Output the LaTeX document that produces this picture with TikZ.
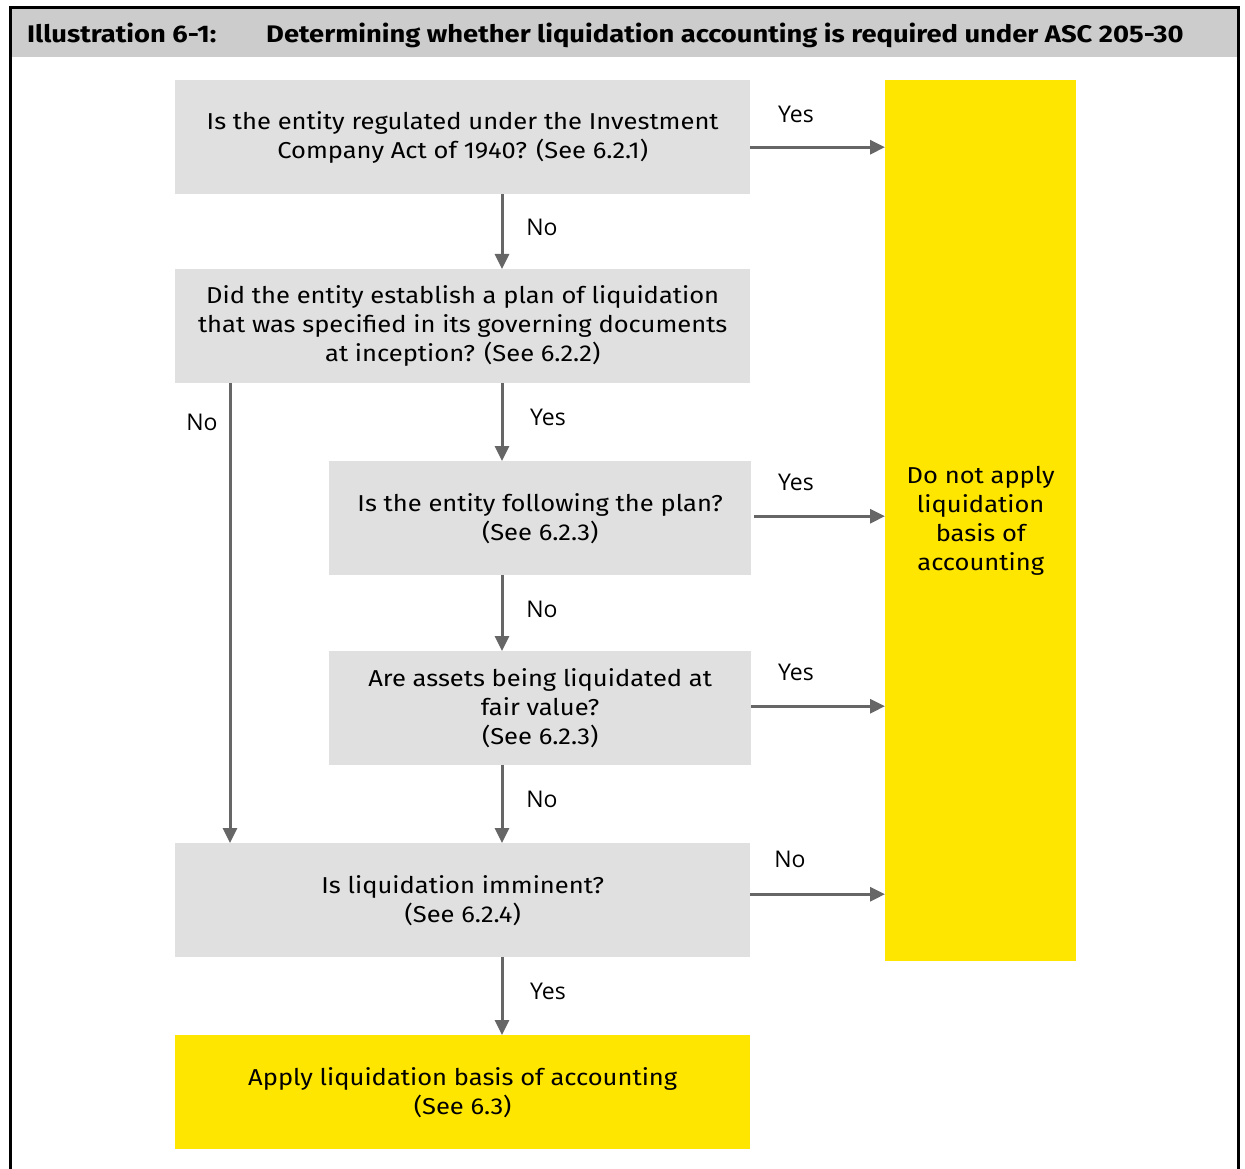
\documentclass[tikz,border=0pt]{standalone}
\usepackage{fontspec}
\setmainfont{Fira Sans}[FakeStretch=1.11]
\newfontfamily\hdrfont{Fira Sans}[FakeStretch=1.14]
\newfontfamily\lblfont{Open Sans}
\usepackage{tikz}
\usetikzlibrary{positioning,calc,arrows.meta}

\definecolor{hdrgray}{HTML}{CCCCCC}
\definecolor{boxgray}{HTML}{E0E0E0}
\definecolor{eyyellow}{HTML}{FFE600}
\definecolor{arrgray}{HTML}{666666}

\tikzset{
  qbox/.style={fill=boxgray, anchor=north west, align=center, inner sep=0pt,
    font=\fontsize{23}{29}\selectfont},
  ybox/.style={qbox, fill=eyyellow},
  flow/.style={draw=arrgray, line width=3pt, -{Triangle[length=15pt,width=14pt]}},
  lbl/.style={font=\lblfont\fontsize{23}{28}\selectfont, inner sep=0pt},
  hdr/.style={anchor=base west, font=\hdrfont\bfseries\fontsize{24}{28}\selectfont, inner sep=0pt}
}

\begin{document}
\begin{tikzpicture}[x=1pt,y=-1pt]
\useasboundingbox (0,0) rectangle (1245,1169);

% frame and header
\fill[hdrgray] (10,8) rectangle (1238,57);
\draw[line width=3pt] (10,1169) -- (10,8) -- (1238,8) -- (1238,1169);
\node[hdr] (ill) at (27,43) {Illustration 6-1:};
\node[hdr] (ttl) at (266,43)
  {Determining whether liquidation accounting is required under ASC 205-30};

% boxes
\node[qbox, minimum width=575pt, minimum height=114pt] (q1) at (175,80)
  {Is the entity regulated under the Investment\\Company Act of 1940? (See 6.2.1)};
\node[qbox, minimum width=575pt, minimum height=114pt] (q2) at (175,269)
  {Did the entity establish a plan of liquidation\\that was specified in its governing documents\\at inception? (See 6.2.2)};
\node[qbox, minimum width=422pt, minimum height=114pt] (q3) at (329,461)
  {Is the entity following the plan?\\(See 6.2.3)};
\node[qbox, minimum width=422pt, minimum height=114pt] (q4) at (329,651)
  {Are assets being liquidated at\\fair value?\\(See 6.2.3)};
\node[qbox, minimum width=575pt, minimum height=114pt] (q5) at (175,843)
  {Is liquidation imminent?\\(See 6.2.4)};
\node[ybox, minimum width=575pt, minimum height=114pt] (apply) at (175,1035)
  {Apply liquidation basis of accounting\\(See 6.3)};
\node[ybox, minimum width=191pt, minimum height=881pt] (noapply) at (885,80)
  {Do not apply\\liquidation\\basis of\\accounting};

% connectors
\coordinate (mid) at (502,0);
\coordinate (left) at (230,0);
\draw[flow] (q1.south -| mid) -- (q2.north -| mid);
\draw[flow] (q2.south -| mid) -- (q3.north -| mid);
\draw[flow] (q3.south -| mid) -- (q4.north -| mid);
\draw[flow] (q4.south -| mid) -- (q5.north -| mid);
\draw[flow] (q5.south -| mid) -- (apply.north -| mid);
\draw[flow] (q2.south -| left) -- (q5.north -| left);
\draw[flow] ([yshift=-10pt]q1.east) -- ([yshift=-10pt]q1.east -| noapply.west);
\draw[flow] ([xshift=3pt,yshift=2pt]q3.east) -- ([yshift=2pt]q3.east -| noapply.west);
\draw[flow] ([yshift=2pt]q4.east) -- ([yshift=2pt]q4.east -| noapply.west);
\draw[flow] ([yshift=6pt]q5.east) -- ([yshift=6pt]q5.east -| noapply.west);

% labels
\node[lbl] (l1) at (542,227) {No};
\node[lbl] (l2) at (548,417) {Yes};
\node[lbl] (l3) at (542,609) {No};
\node[lbl] (l4) at (542,799) {No};
\node[lbl] (l5) at (548,991) {Yes};
\node[lbl] (l6) at (202,422) {No};
\node[lbl] (l7) at (796,114) {Yes};
\node[lbl] (l8) at (796,482) {Yes};
\node[lbl] (l9) at (796,672) {Yes};
\node[lbl] (l10) at (790,859) {No};
\end{tikzpicture}
\end{document}
